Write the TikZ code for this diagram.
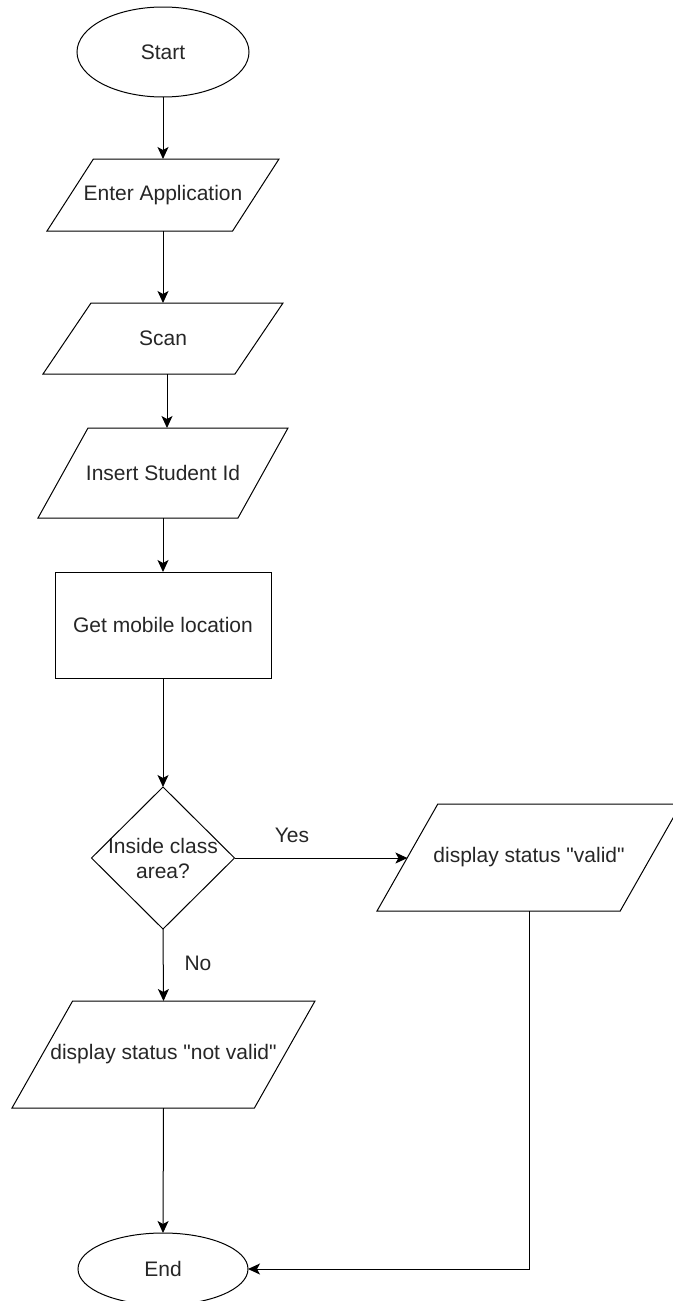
\documentclass[tikz,border=0pt]{standalone}
\usepackage{fontspec}
\setmainfont{Liberation Sans}[Ligatures=TeXOff]
\usetikzlibrary{shapes.geometric,arrows.meta}

% input/output box: parallelogram drawn over a plain text node
% #1 = node name, #2 = horizontal slant in pt
\newcommand\ioshape[2]{%
  \draw[line] ([xshift=#2pt]#1.north west) -- (#1.north east)
    -- ([xshift=-#2pt]#1.south east) -- (#1.south west) -- cycle;}

\begin{document}
\begin{tikzpicture}[x=1pt,y=-1pt,
  line/.style={draw=black, line width=1pt},
  arr/.style={line, -{Stealth[length=12pt,width=11pt,inset=3pt]}},
  lbl/.style={font=\fontsize{21}{25}\selectfont, text=black!85},
  txt/.style={lbl, inner sep=0pt, outer sep=0pt, align=center},
  term/.style={txt, ellipse, line},
  proc/.style={txt, rectangle, line},
]
\useasboundingbox (0,0) rectangle (672,1301);

% nodes
\node[term, minimum width=172pt, minimum height=90pt] (start) at (163,52) {Start};
\node[txt, minimum width=232pt, minimum height=72pt] (enter) at (163,195) {Enter Application};
\node[txt, minimum width=240pt, minimum height=71pt] (scan) at (163,338.5) {Scan};
\node[txt, minimum width=250pt, minimum height=90pt] (ins) at (163,473) {Insert Student Id};
\node[proc, minimum width=216pt, minimum height=106pt] (loc) at (163,625) {Get mobile location};
\node[txt, minimum width=143pt, minimum height=142pt] (dec) at (163,858) {Inside class\\area?};
\node[txt, minimum width=304pt, minimum height=107pt] (valid) at (529,857.5) {display status "valid"};
\node[txt, minimum width=303pt, minimum height=107pt] (nvalid) at (163.5,1054.5) {display status "not valid"};
\node[term, minimum width=170pt, minimum height=72pt] (end) at (163,1269) {End};

% outlines
\ioshape{enter}{46.4}
\ioshape{scan}{48}
\ioshape{ins}{50}
\ioshape{valid}{60.8}
\ioshape{nvalid}{60.6}
\draw[line] (dec.north) -- (dec.east) -- (dec.south) -- (dec.west) -- cycle;

% branch labels
\node[lbl] (yes) at (292,835) {Yes};
\node[lbl] (no) at (198,963) {No};

% connectors
\draw[arr] (start.south) -- (enter.north);
\draw[arr] (enter.south) -- (scan.north);
\draw[arr] ([xshift=4pt]scan.south) -- ([xshift=4pt]ins.north);
\draw[arr] (ins.south) -- (loc.north);
\draw[arr] (loc.south) -- (dec.north);
\draw[arr] (dec.east) -- ([xshift=30.4pt]valid.west |- dec.east);
\draw[arr] (dec.south) -- (nvalid.north);
\draw[arr] (nvalid.south) -- (end.north);
\draw[arr] (valid.south) |- (end.east);
\end{tikzpicture}
\end{document}
